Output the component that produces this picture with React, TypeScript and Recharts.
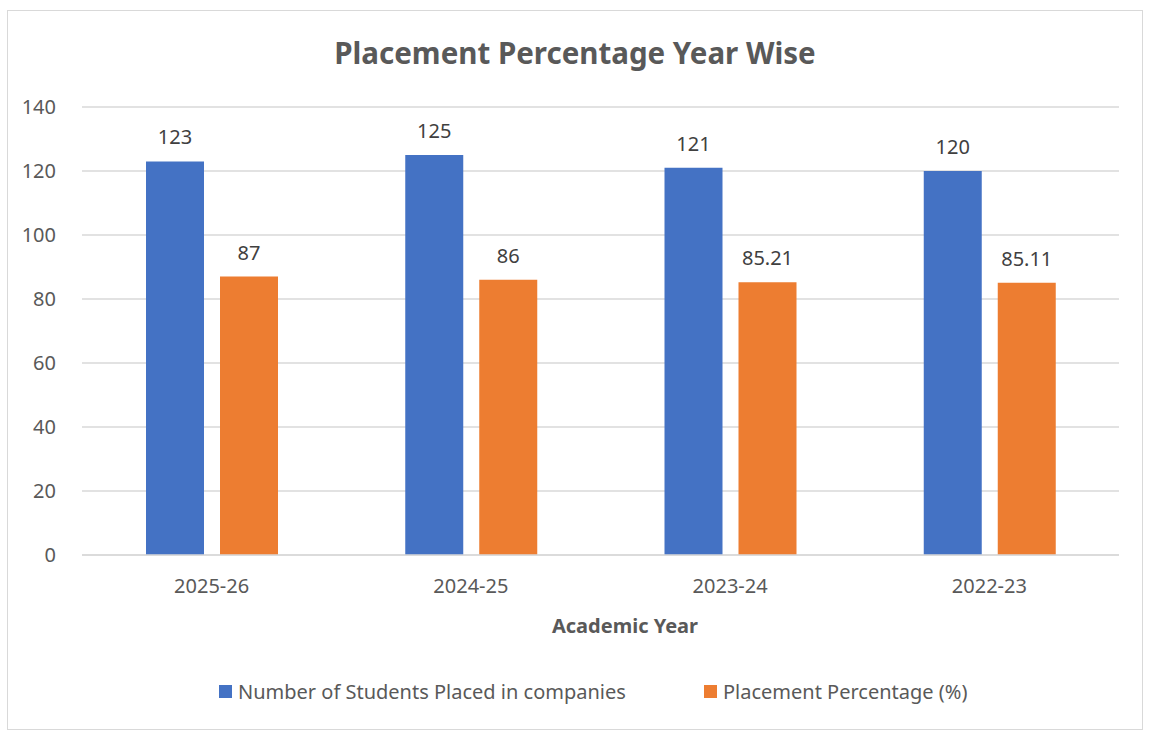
import React from 'react';
import { BarChart, Bar, XAxis, YAxis, CartesianGrid, LabelList } from 'recharts';

const categories = ['2025-26', '2024-25', '2023-24', '2022-23'];
const studentsPlaced = [123, 125, 121, 120];
const placementPct = [87, 86, 85.21, 85.11];
const yTicks = [0, 20, 40, 60, 80, 100, 120, 140];

const data = categories.map((c, i) => ({ year: c, students: studentsPlaced[i], pct: placementPct[i] }));

const FONT = '"Noto Sans", "Open Sans", sans-serif';
const TXT = '#595959';

export default function App() {
  return (
    <div style={{ position: 'absolute', left: 7, top: 10, width: 1136, height: 720, border: '1px solid #d9d9d9', boxSizing: 'border-box', background: '#fff', fontFamily: FONT }}>
      <div style={{ position: 'absolute', left: 0, right: 0, top: 23, lineHeight: '38px', textAlign: 'center', fontSize: 29.5, fontWeight: 700, color: TXT }}>
        Placement Percentage Year Wise
      </div>
      <BarChart width={1134} height={718} data={data} margin={{ top: 96, right: 23, bottom: 144, left: 0 }} barSize={58} barGap={16}>
        <CartesianGrid vertical={false} stroke="#d9d9d9" strokeWidth={1.5} />
        <XAxis dataKey="year" axisLine={{ stroke: '#d9d9d9', strokeWidth: 1.5 }} tickLine={false} tickSize={0} tickMargin={24} height={30} tick={{ fill: TXT, fontSize: 20, fontFamily: FONT }} />
        <YAxis domain={[0, 140]} ticks={yTicks} axisLine={false} tickLine={false} tickSize={0} tickMargin={26} width={74} tick={{ fill: TXT, fontSize: 20, fontFamily: FONT }} />
        <Bar dataKey="students" fill="#4472C4" isAnimationActive={false}>
          <LabelList dataKey="students" position="top" offset={17} fill="#404040" fontSize={20} fontFamily={FONT} />
        </Bar>
        <Bar dataKey="pct" fill="#ED7D31" isAnimationActive={false}>
          <LabelList dataKey="pct" position="top" offset={17} fill="#404040" fontSize={20} fontFamily={FONT} />
        </Bar>
      </BarChart>
      <div style={{ position: 'absolute', left: 0, width: 1234, top: 602, lineHeight: '26px', textAlign: 'center', fontSize: 20, fontWeight: 700, color: TXT }}>
        Academic Year
      </div>
      <div style={{ position: 'absolute', left: 211, top: 668, height: 24, display: 'flex', alignItems: 'center', fontSize: 20, color: TXT, whiteSpace: 'nowrap' }}>
        <span style={{ display: 'inline-block', width: 13, height: 13, background: '#4472C4', marginRight: 6 }} />
        Number of Students Placed in companies
      </div>
      <div style={{ position: 'absolute', left: 696, top: 668, height: 24, display: 'flex', alignItems: 'center', fontSize: 20, color: TXT, whiteSpace: 'nowrap' }}>
        <span style={{ display: 'inline-block', width: 13, height: 13, background: '#ED7D31', marginRight: 6 }} />
        Placement Percentage (%)
      </div>
    </div>
  );
}
